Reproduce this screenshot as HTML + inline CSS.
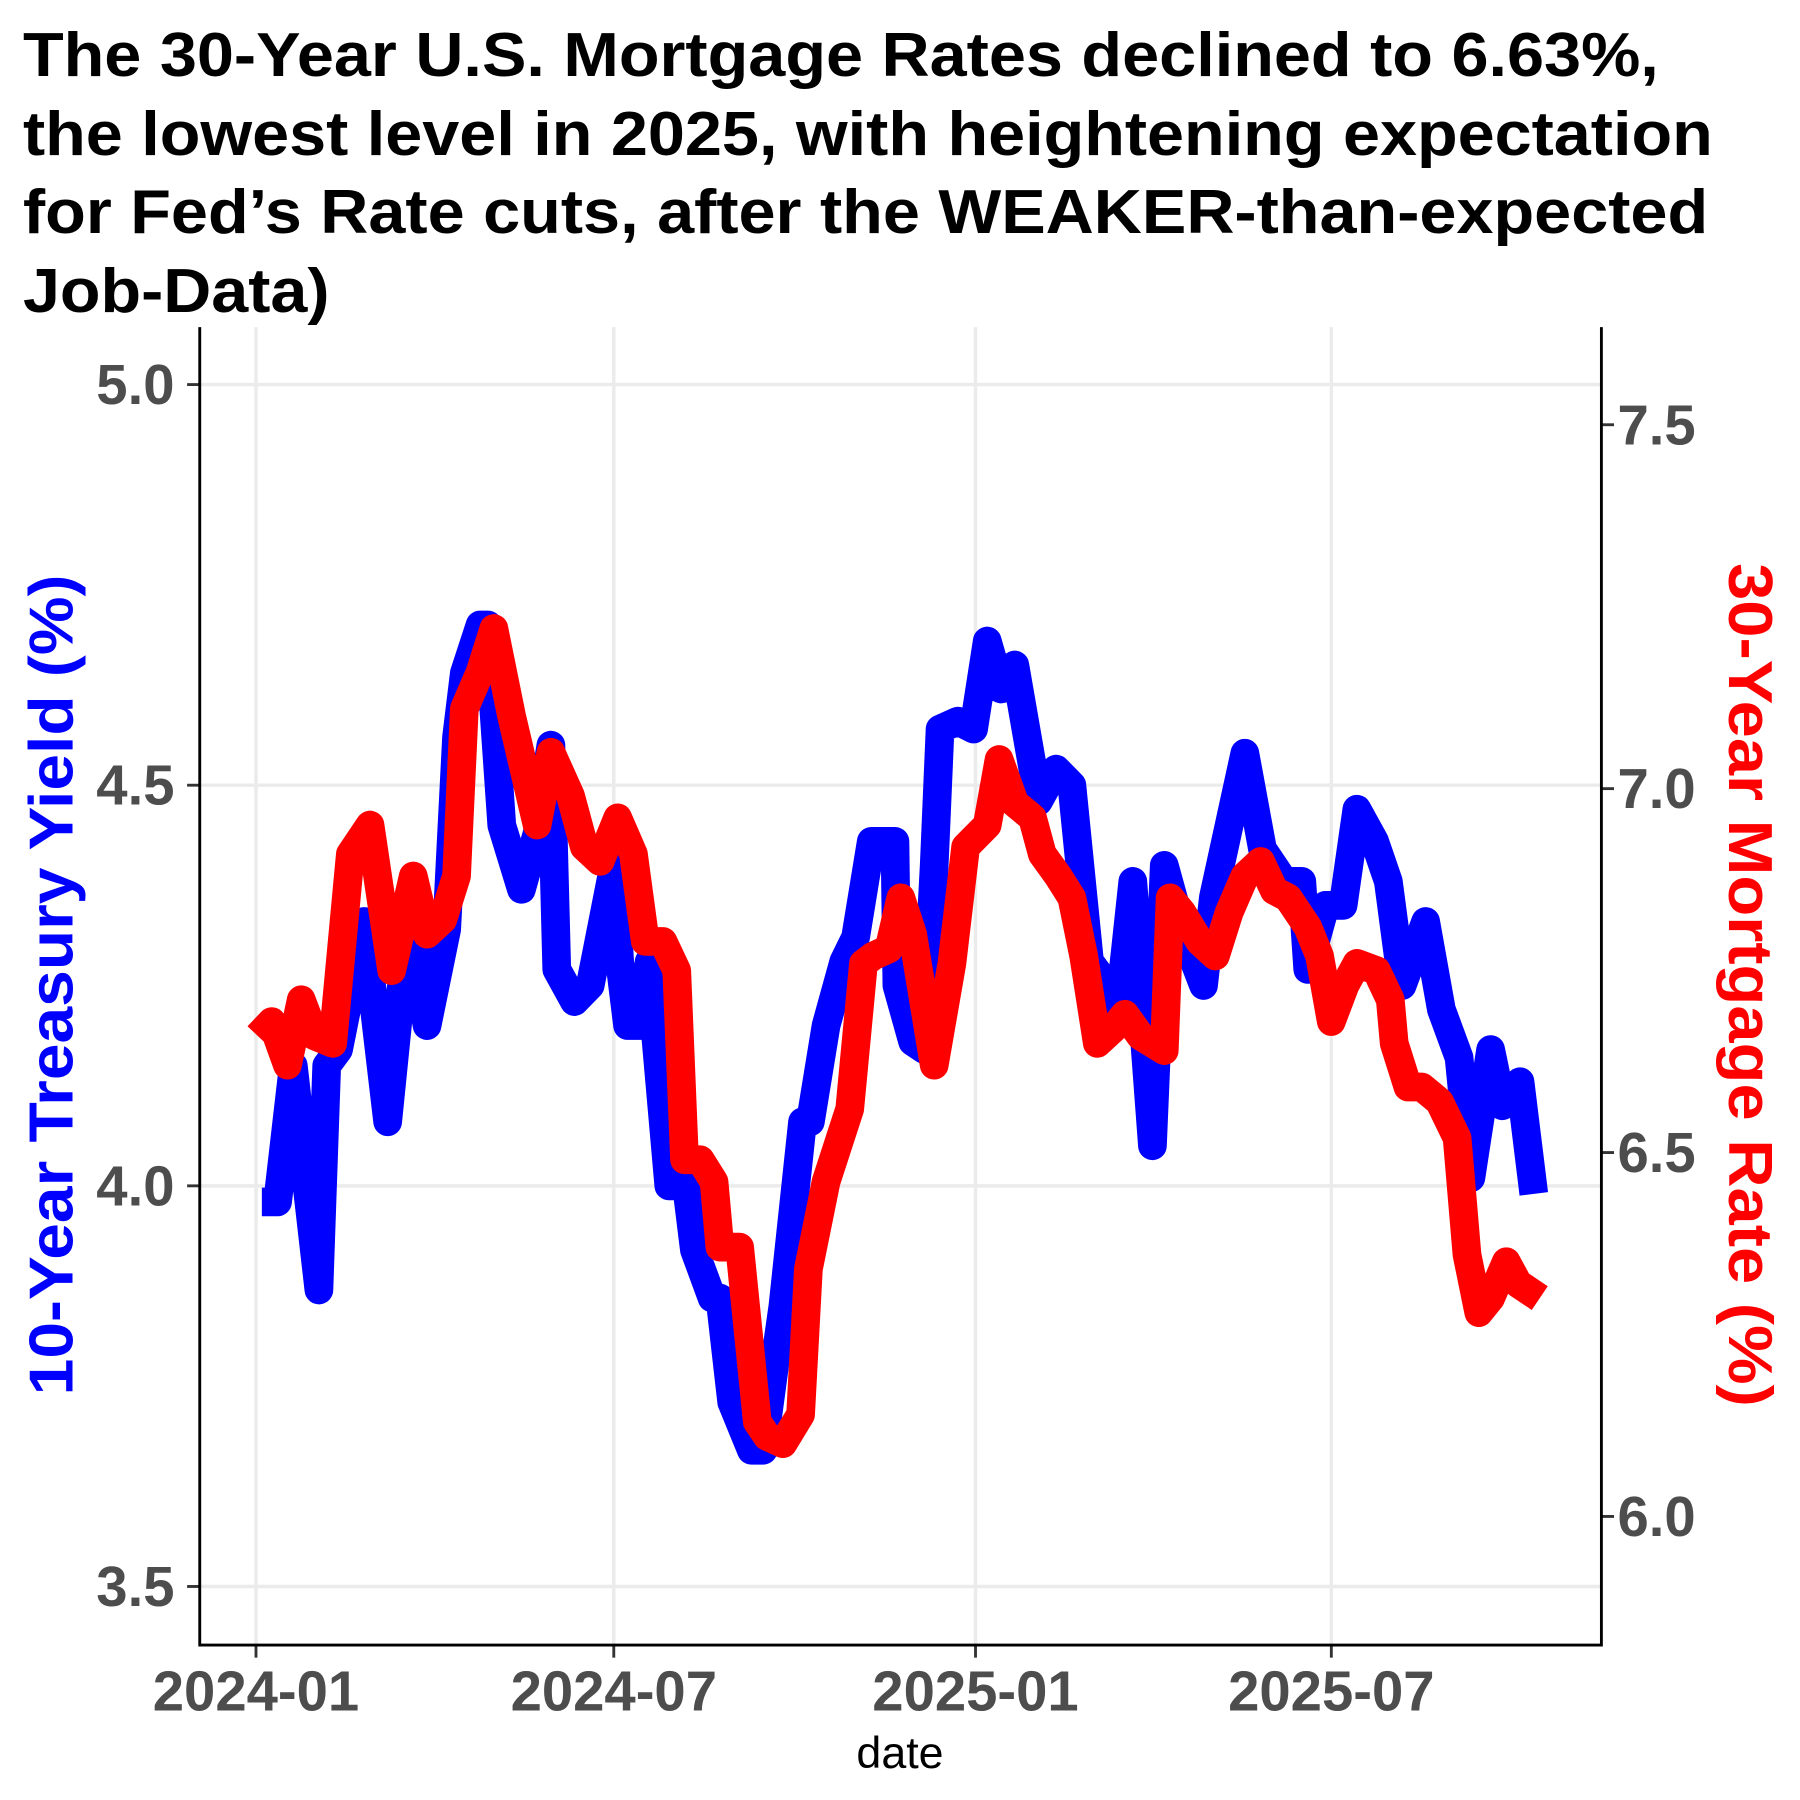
<!DOCTYPE html>
<html><head><meta charset="utf-8">
<style>
html,body{margin:0;padding:0;background:#fff;}
svg{display:block;}
text{font-family:"Liberation Sans",Arial,sans-serif;}
</style></head>
<body>
<svg id="chart" width="1800" height="1800" viewBox="0 0 1568 1568" xmlns="http://www.w3.org/2000/svg">
<rect width="1568" height="1568" fill="#fff"/>
<g font-weight="bold" font-size="54" fill="#000" lengthAdjust="spacingAndGlyphs">
<text x="20" y="66" textLength="1425" lengthAdjust="spacingAndGlyphs">The 30-Year U.S. Mortgage Rates declined to 6.63%,</text>
<text x="20" y="135" textLength="1472" lengthAdjust="spacingAndGlyphs">the lowest level in 2025, with heightening expectation</text>
<text x="20" y="203" textLength="1468" lengthAdjust="spacingAndGlyphs">for Fed’s Rate cuts, after the WEAKER-than-expected</text>
<text x="20" y="272" textLength="267" lengthAdjust="spacingAndGlyphs">Job-Data)</text>
</g>
<g id="grid"></g>
<g id="series"></g>
<g id="axes"></g>
<text x="784" y="1540" font-size="39" text-anchor="middle" fill="#000">date</text>
<text transform="translate(63,858) rotate(-90)" font-size="54" font-weight="bold" text-anchor="middle" fill="#0000ff" textLength="715" lengthAdjust="spacingAndGlyphs">10-Year Treasury Yield (%)</text>
<text transform="translate(1506,858) rotate(90)" font-size="54" font-weight="bold" text-anchor="middle" fill="#ff0000" textLength="735" lengthAdjust="spacingAndGlyphs">30-Year Mortgage Rate (%)</text>
</svg>
<script>
const xTickLabels = ["2024-01","2024-07","2025-01","2025-07"];
const leftTicks = [3.5,4.0,4.5,5.0];
const rightTicks = [6.0,6.5,7.0,7.5];
const treasuryDates = ["2024-01-04","2024-01-12","2024-01-20","2024-02-02","2024-02-06","2024-02-12","2024-02-25","2024-03-08","2024-03-15","2024-03-21","2024-03-28","2024-04-07","2024-04-12","2024-04-16","2024-04-24","2024-04-28","2024-05-05","2024-05-15","2024-05-23","2024-05-30","2024-06-02","2024-06-11","2024-06-19","2024-06-23","2024-07-01","2024-07-04","2024-07-08","2024-07-14","2024-07-19","2024-07-29","2024-08-07","2024-08-11","2024-08-20","2024-08-24","2024-08-30","2024-09-09","2024-09-15","2024-09-21","2024-09-25","2024-10-05","2024-10-09","2024-10-17","2024-10-26","2024-11-01","2024-11-09","2024-11-21","2024-11-22","2024-11-30","2024-12-06","2024-12-11","2024-12-14","2024-12-23","2024-12-31","2025-01-07","2025-01-14","2025-01-21","2025-02-02","2025-02-11","2025-02-19","2025-02-28","2025-03-09","2025-03-15","2025-03-22","2025-04-01","2025-04-07","2025-04-16","2025-04-27","2025-05-02","2025-05-18","2025-05-27","2025-06-07","2025-06-16","2025-06-19","2025-06-28","2025-07-07","2025-07-14","2025-07-23","2025-07-30","2025-08-06","2025-08-12","2025-08-18","2025-08-26","2025-09-04","2025-09-10","2025-09-20","2025-09-26","2025-10-05","2025-10-12"];
const treasuryValues = [3.98,3.98,4.15,3.87,4.15,4.17,4.33,4.08,4.25,4.30,4.20,4.32,4.56,4.64,4.70,4.70,4.45,4.37,4.44,4.55,4.27,4.23,4.25,4.30,4.40,4.28,4.20,4.20,4.28,4.00,4.00,3.92,3.86,3.86,3.73,3.67,3.67,3.78,3.85,4.08,4.08,4.20,4.28,4.31,4.43,4.43,4.25,4.18,4.17,4.40,4.57,4.58,4.57,4.68,4.62,4.65,4.48,4.52,4.50,4.28,4.25,4.22,4.38,4.05,4.40,4.32,4.25,4.36,4.54,4.42,4.38,4.38,4.27,4.35,4.35,4.47,4.43,4.38,4.25,4.29,4.33,4.22,4.16,4.01,4.17,4.10,4.13,3.99];
const mortgageDates = ["2024-01-02","2024-01-09","2024-01-17","2024-01-24","2024-01-31","2024-02-09","2024-02-18","2024-02-28","2024-03-10","2024-03-21","2024-03-28","2024-04-05","2024-04-12","2024-04-16","2024-04-24","2024-05-01","2024-05-10","2024-05-23","2024-05-30","2024-06-09","2024-06-16","2024-06-24","2024-07-03","2024-07-11","2024-07-17","2024-07-26","2024-08-02","2024-08-06","2024-08-14","2024-08-21","2024-08-24","2024-09-03","2024-09-12","2024-09-17","2024-09-25","2024-10-04","2024-10-08","2024-10-17","2024-10-29","2024-11-05","2024-11-10","2024-11-18","2024-11-24","2024-11-30","2024-12-11","2024-12-20","2024-12-27","2025-01-07","2025-01-13","2025-01-21","2025-01-30","2025-02-04","2025-02-12","2025-02-19","2025-02-25","2025-03-04","2025-03-12","2025-03-18","2025-03-26","2025-04-07","2025-04-10","2025-04-16","2025-04-25","2025-05-03","2025-05-10","2025-05-18","2025-05-26","2025-06-02","2025-06-09","2025-06-19","2025-06-25","2025-07-01","2025-07-08","2025-07-14","2025-07-24","2025-07-31","2025-08-02","2025-08-09","2025-08-16","2025-08-25","2025-09-03","2025-09-08","2025-09-14","2025-09-20","2025-09-28","2025-10-04","2025-10-15"];
const mortgageValues = [6.66,6.68,6.62,6.71,6.66,6.65,6.91,6.95,6.75,6.88,6.80,6.82,6.88,7.11,7.16,7.22,7.10,6.95,7.05,6.99,6.92,6.90,6.96,6.91,6.79,6.79,6.75,6.49,6.49,6.46,6.37,6.37,6.13,6.11,6.10,6.14,6.34,6.46,6.56,6.76,6.77,6.78,6.85,6.80,6.62,6.76,6.92,6.95,7.04,6.98,6.96,6.91,6.88,6.85,6.77,6.65,6.67,6.69,6.66,6.64,6.85,6.83,6.79,6.77,6.83,6.88,6.90,6.86,6.85,6.81,6.77,6.68,6.73,6.76,6.75,6.71,6.65,6.59,6.59,6.57,6.52,6.36,6.28,6.30,6.35,6.32,6.30];

const NS = "http://www.w3.org/2000/svg";
const P = {l:174, r:1395, t:285, b:1433};
const t0 = Date.UTC(2024,0,1);
function dayOf(s){const p=s.split("-");return (Date.UTC(+p[0],+p[1]-1,+p[2]||1)-t0)/86400000;}
function xScale(s){return 223 + dayOf(s)*1.7125;}
function yLeft(v){return 1033 - (v-4.0)*698;}
function yRight(v){return 1004 - (v-6.5)*634;}
function mk(tag, attrs, parent){const e=document.createElementNS(NS,tag);for(const k in attrs)e.setAttribute(k,attrs[k]);parent.appendChild(e);return e;}

const grid=document.getElementById('grid'), axes=document.getElementById('axes'), series=document.getElementById('series');
leftTicks.forEach(v=>{
  const g=mk('line',{x1:P.l,x2:P.r,y1:yLeft(v),y2:yLeft(v),stroke:'#ebebeb','stroke-width':3},grid);
  
  
  const tk=mk('line',{x1:P.l-11,x2:P.l,y1:yLeft(v),y2:yLeft(v),stroke:'#333','stroke-width':2.5},axes);
  
  
  const t=mk('text',{x:P.l-22,y:yLeft(v)+17,'text-anchor':'end','font-size':49,'font-weight':'bold',fill:'#4d4d4d'},axes);
  t.textContent=v.toFixed(1);
  
  
});
rightTicks.forEach(v=>{
  const tk=mk('line',{x1:P.r,x2:P.r+11,y1:yRight(v),y2:yRight(v),stroke:'#333','stroke-width':2.5},axes);
  
  
  const t=mk('text',{x:P.r+14,y:yRight(v)+17,'font-size':49,'font-weight':'bold',fill:'#4d4d4d'},axes);
  t.textContent=v.toFixed(1);
  
  
});
xTickLabels.forEach(s=>{
  const x=xScale(s);
  const g=mk('line',{x1:x,x2:x,y1:P.t,y2:P.b,stroke:'#ebebeb','stroke-width':3},grid);
  
  
  const tk=mk('line',{x1:x,x2:x,y1:P.b,y2:P.b+11,stroke:'#333','stroke-width':2.5},axes);
  
  
  const t=mk('text',{x:x,y:P.b+57,'text-anchor':'middle','font-size':49,'font-weight':'bold',fill:'#4d4d4d'},axes);
  t.textContent=s;
  
  
});
const al=mk('path',{d:`M${P.l},${P.t}V${P.b}H${P.r}V${P.t}`,fill:'none',stroke:'#000','stroke-width':2.5},axes);



function linePath(dates, vals, yf){return dates.map((d,i)=>(i?'L':'M')+xScale(d).toFixed(1)+','+yf(vals[i]).toFixed(1)).join('');}
const blue=mk('path',{d:linePath(treasuryDates,treasuryValues,yLeft),fill:'none',stroke:'#0000ff','stroke-width':25,'stroke-linejoin':'round','stroke-linecap':'butt'},series);


const red=mk('path',{d:linePath(mortgageDates,mortgageValues,yRight),fill:'none',stroke:'#ff0000','stroke-width':25,'stroke-linejoin':'round','stroke-linecap':'butt'},series);


</script>
</body></html>
